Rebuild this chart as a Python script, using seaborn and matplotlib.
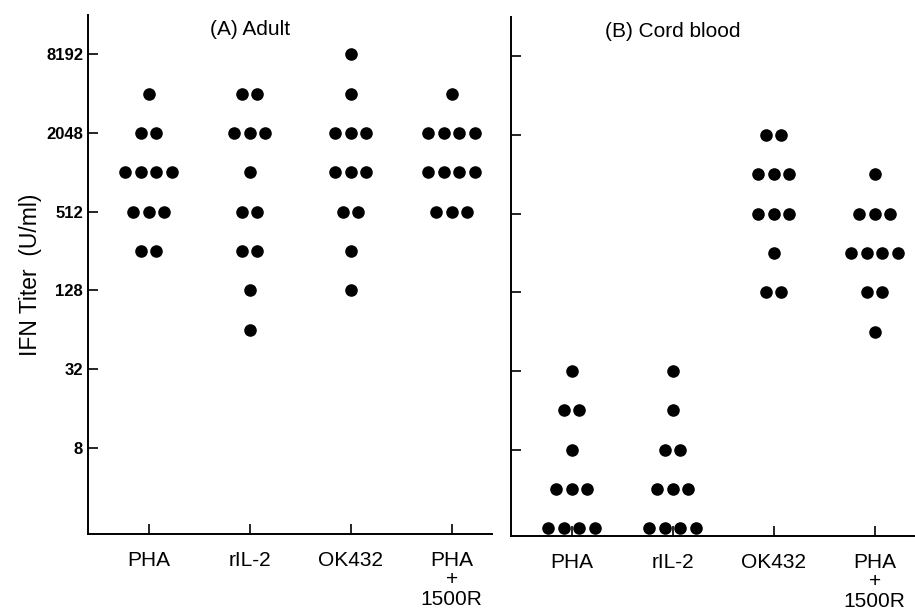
import pandas as pd
import matplotlib
matplotlib.use("Agg")
import matplotlib.pyplot as plt
import seaborn as sns

# categorias del eje x (mismas en los dos paneles)
cats = ["PHA", "rIL-2", "OK432", "PHA\n+\n1500R"]

# titulos de IFN (U/ml), panel A: adultos
adult_pha = [4096, 2048, 2048, 1024, 1024, 1024, 1024, 512, 512, 512, 256, 256]
adult_il2 = [4096, 4096, 2048, 2048, 2048, 1024, 512, 512, 256, 256, 128, 64]
adult_ok = [8192, 4096, 2048, 2048, 2048, 1024, 1024, 1024, 512, 512, 256, 128]
adult_rad = [4096, 2048, 2048, 2048, 2048, 1024, 1024, 1024, 1024, 512, 512, 512]

# panel B: sangre de cordon
cord_pha = [32, 16, 16, 8, 4, 4, 4, 2, 2, 2, 2]
cord_il2 = [32, 16, 8, 8, 4, 4, 4, 2, 2, 2, 2]
cord_ok = [2048, 2048, 1024, 1024, 1024, 512, 512, 512, 256, 128, 128]
cord_rad = [1024, 512, 512, 512, 256, 256, 256, 256, 128, 128, 64]

yticks = [8, 32, 128, 512, 2048, 8192]
paso = 0.155  # separacion horizontal entre puntos de la misma fila


def armar(listas):
    filas = []
    for i, vals in enumerate(listas):
        for v in vals:
            filas.append({"grupo": i, "titer": v})
    df = pd.DataFrame(filas)
    # cada fila de puntos iguales queda centrada en su categoria
    k = df.groupby(["grupo", "titer"]).cumcount()
    n = df.groupby(["grupo", "titer"])["titer"].transform("size")
    df["xpos"] = df["grupo"] + (k - (n - 1) / 2) * paso
    return df


df_a = armar([adult_pha, adult_il2, adult_ok, adult_rad])
df_b = armar([cord_pha, cord_il2, cord_ok, cord_rad])

sns.set_style("ticks")
plt.rcParams["font.family"] = ["Liberation Sans", "DejaVu Sans"]
plt.rcParams["text.color"] = "black"

fig = plt.figure(figsize=(9.15, 6.1), dpi=100)
ax1 = fig.add_axes([0.0962, 0.1246, 0.4415, 0.851])
ax2 = fig.add_axes([0.5585, 0.1213, 0.4415, 0.851])

for ax, df, titulo in [(ax1, df_a, "(A) Adult"), (ax2, df_b, "(B) Cord blood")]:
    ax.set_yscale("log", base=2)
    sns.scatterplot(data=df, x="xpos", y="titer", ax=ax, color="black",
                    s=82, linewidth=0, legend=False, clip_on=False, zorder=3)
    ax.set_xlim(-0.6, 3.4)
    ax.set_ylim(1.75, 16384)
    ax.set_xticks(range(len(cats)))
    ax.set_xticklabels(cats)
    ax.set_yticks(yticks)
    ax.minorticks_off()
    ax.set_xlabel("")
    ax.set_ylabel("")
    for s in ["top", "right"]:
        ax.spines[s].set_visible(False)
    for s in ["left", "bottom"]:
        ax.spines[s].set_linewidth(1.4)
        ax.spines[s].set_color("black")
    ax.tick_params(direction="in", length=7, width=1.2, colors="black")
    ax.tick_params(axis="x", labelsize=15, pad=12)
    for t in ax.get_xticklabels():
        t.set_linespacing(1.05)
        t.set_verticalalignment("top")
    ax.text(0.40, 0.972, titulo, transform=ax.transAxes, ha="center",
            va="center", fontsize=15, color="black")

ax1.set_yticklabels([str(v) for v in yticks], fontsize=12, fontweight="bold")
ax2.set_yticklabels([])
ax1.set_ylabel("IFN Titer  (U/ml)", fontsize=16.5, labelpad=3, color="black")

fig.savefig("out.png", dpi=100, facecolor="white")
